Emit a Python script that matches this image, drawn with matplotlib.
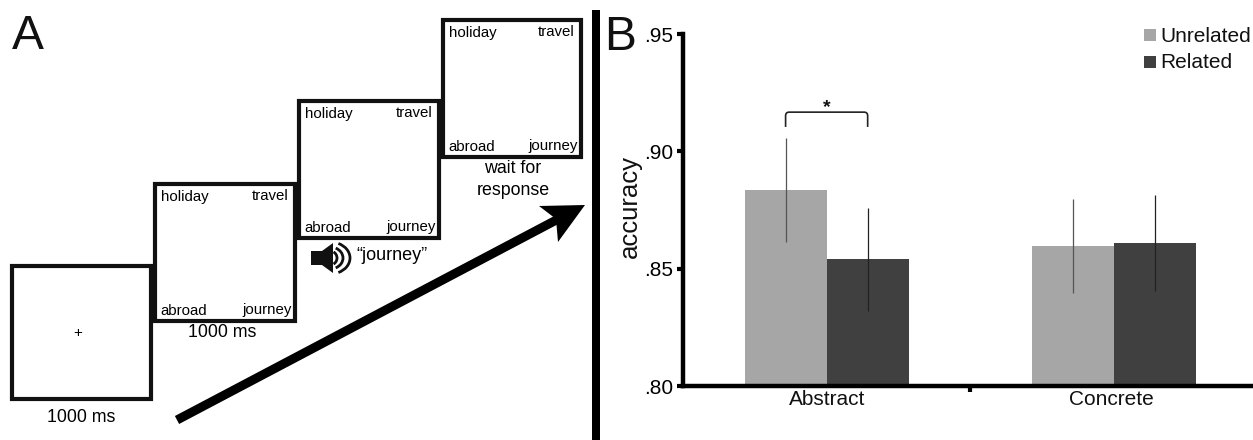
import matplotlib
matplotlib.use('Agg')
import matplotlib.pyplot as plt
from matplotlib.patches import Rectangle, Polygon, Arc, PathPatch
from matplotlib.path import Path

plt.rcParams['font.family'] = ['Liberation Sans', 'DejaVu Sans']

conditions = ['Abstract', 'Concrete']
unrelated = [.8835, .8597]
related = [.854, .861]
unrelated_err = [.0222, .0200]
related_err = [.0220, .0205]
y_ticks = [.80, .85, .90, .95]
y_labels = ['.80', '.85', '.90', '.95']
corner_words = ['holiday', 'travel', 'abroad', 'journey']
box_captions = ['1000 ms', '1000 ms', '', 'wait for\nresponse']

W, H = 1253, 440
fig = plt.figure(figsize=(W / 100, H / 100), dpi=100)

# whole figure in pixel coords, for the panel A schematic
canvas = fig.add_axes([0, 0, 1, 1])
canvas.set_xlim(0, W)
canvas.set_ylim(H, 0)
canvas.axis('off')

boxes = [(12, 266, 139, 133), (155, 184, 140, 137), (299, 101, 140, 137), (443, 20, 138, 137)]
caption_x = [81, 222, 0, 513]
for i, (x, y, w, h) in enumerate(boxes):
    canvas.add_patch(Rectangle((x, y), w, h, fill=False, ec='#111111', lw=3))
    if i == 0:
        canvas.text(x + w / 2 - 4, y + h / 2 + 1, '+', fontsize=11, ha='center', va='center')
    else:
        canvas.text(x + 6, y + 13, corner_words[0], fontsize=10.8, va='center')
        canvas.text(x + w - 6, y + 12, corner_words[1], fontsize=10.8, ha='right', va='center')
        canvas.text(x + 5, y + h - 10, corner_words[2], fontsize=10.8, va='center')
        canvas.text(x + w - 3, y + h - 11, corner_words[3], fontsize=10.8, ha='right', va='center')
    if box_captions[i]:
        canvas.text(caption_x[i], y + h + (10 if i == 0 else 3), box_captions[i], fontsize=12.8,
                    ha='center', va='top', linespacing=1.4)

# speaker icon and its label
canvas.add_patch(Polygon([(311, 251), (322, 251), (333, 243), (333, 273), (322, 265), (311, 265)],
                         fc='#111111', ec='none'))
for w, h in [(14, 14), (26, 22), (40, 32)]:
    canvas.add_patch(Arc((330, 258), w, h, theta1=-60, theta2=60, ec='#111111', lw=2))
canvas.text(356, 256, '\u201cjourney\u201d', fontsize=13, va='center')

# time arrow
canvas.plot([177, 562], [420, 217], color='black', lw=6.5, solid_capstyle='butt')
canvas.add_patch(Polygon([(585, 205), (539, 206), (556, 219), (558, 242)], fc='black', ec='none'))

# divider
canvas.add_patch(Rectangle((592, 10), 8, 430, fc='black', ec='none'))

canvas.text(12, 49, 'A', fontsize=34.5, va='baseline', ha='left', color='#111111')
canvas.text(604, 50, 'B', fontsize=34.5, va='baseline', ha='left', color='#111111')

# panel B bars
ax = fig.add_axes([683 / W, 1 - 386 / H, (W - 683) / W, 352 / H])
ax.patch.set_alpha(0)
width = 82 / 287
pos = list(range(len(conditions)))
ax.bar([p - width / 2 for p in pos], [u - .80 for u in unrelated], width, bottom=.80,
       color='#a6a6a6', label='Unrelated')
ax.bar([p + width / 2 for p in pos], [r - .80 for r in related], width, bottom=.80,
       color='#404040', label='Related')
ax.errorbar([p - width / 2 for p in pos], unrelated, yerr=unrelated_err, fmt='none',
            ecolor='#555555', elinewidth=0.9)
ax.errorbar([p + width / 2 for p in pos], related, yerr=related_err, fmt='none',
            ecolor='#222222', elinewidth=0.9)

ax.set_xlim(-0.5, (W - 827) / 287)
ax.set_ylim(.80, .95)
ax.set_yticks(y_ticks)
ax.set_yticklabels(y_labels, fontsize=15)
ax.set_xticks([0.5])
ax.set_xticklabels([''])
ax.tick_params(axis='both', width=3, length=4, pad=3, color='black')
label_shift = [0.003, -0.01]
for p, name, s in zip(pos, conditions, label_shift):
    ax.text(p + s, -0.012, name, transform=ax.get_xaxis_transform(), fontsize=15,
            ha='center', va='top', color='#111111')
for side in ['top', 'right']:
    ax.spines[side].set_visible(False)
ax.spines['left'].set_linewidth(3.2)
ax.spines['bottom'].set_linewidth(3.2)
canvas.text(630, 207, 'accuracy', fontsize=18.5, rotation=90, ha='center', va='center', color='#111111')

# significance bracket, rounded at the corners
left_x, right_x = -width / 2, width / 2
y0, y1, r = .9104, .9167, .0016
dx = 0.012
verts = [(left_x, y0), (left_x, y1 - r), (left_x, y1), (left_x + dx, y1), (right_x - dx, y1),
         (right_x, y1), (right_x, y1 - r), (right_x, y0)]
codes = [Path.MOVETO, Path.LINETO, Path.CURVE3, Path.CURVE3, Path.LINETO,
         Path.CURVE3, Path.CURVE3, Path.LINETO]
ax.add_patch(PathPatch(Path(verts, codes), fill=False, ec='#222222', lw=1.2, clip_on=False))
ax.text(0, .9152, '*', fontsize=14, fontweight='bold', ha='center', va='bottom', color='#111111')

# legend drawn by hand to sit at the picture's top right corner
canvas.add_patch(Rectangle((1144, 29), 12, 12, fc='#a6a6a6', ec='none'))
canvas.add_patch(Rectangle((1144, 56), 12, 12, fc='#404040', ec='none'))
canvas.text(1160, 36, 'Unrelated', fontsize=15, va='center', color='#111111')
canvas.text(1160, 62, 'Related', fontsize=15, va='center', color='#111111')

fig.savefig('out.png', dpi=100)
